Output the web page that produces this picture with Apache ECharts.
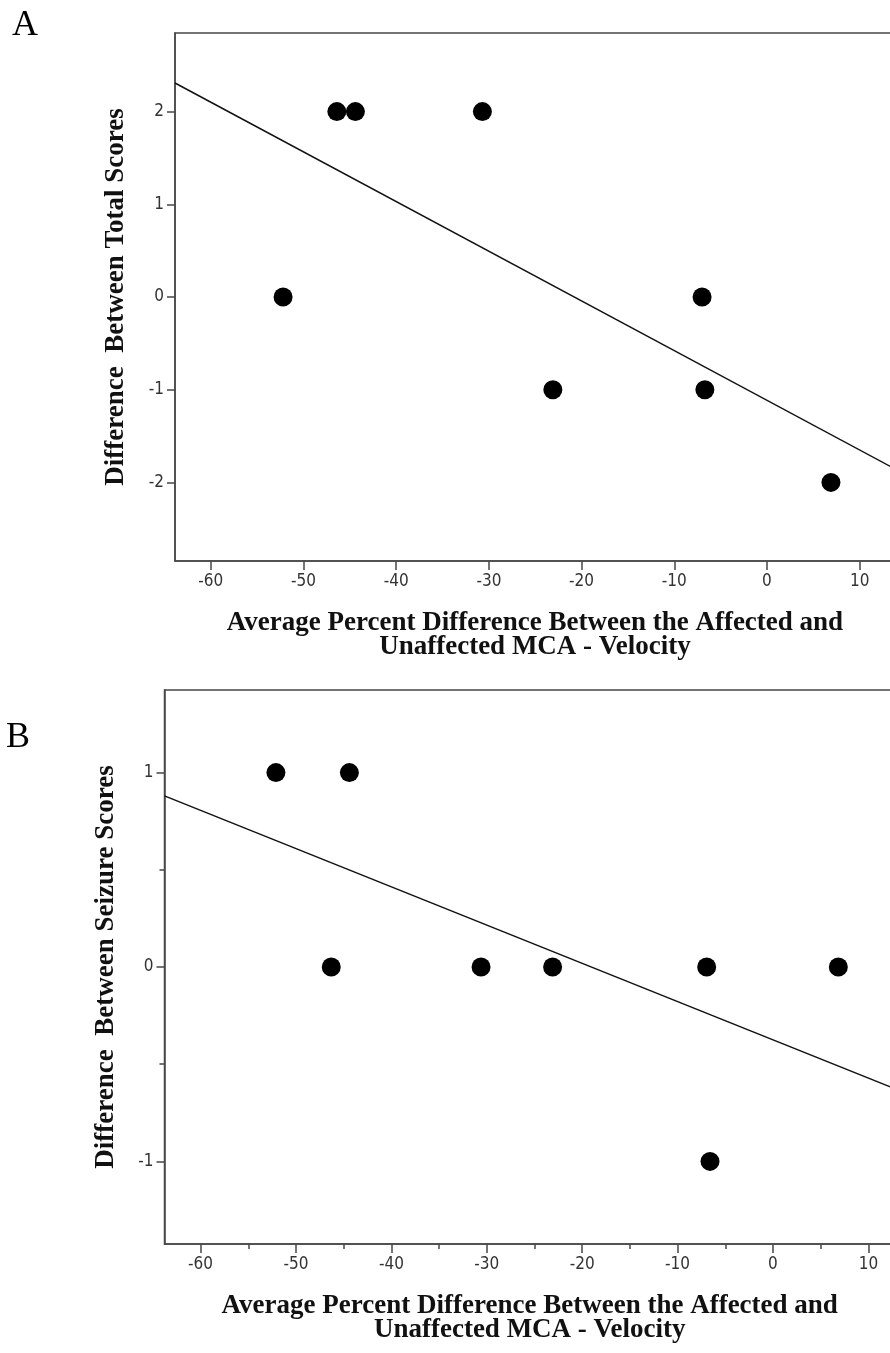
<!DOCTYPE html>
<html>
<head>
<meta charset="utf-8">
<script src="https://cdn.jsdelivr.net/npm/echarts@6/dist/echarts.min.js"></script>
<style>
html, body { margin: 0; padding: 0; background: #fff; }
#chart { width: 890px; height: 1353px; }
</style>
</head>
<body>
<div id="chart"></div>
<script>
// tick positions
var xTicks = [-60, -50, -40, -30, -20, -10, 0, 10];
var xMinorTicks = [-55, -45, -35, -25, -15, -5, 5];
var yTicksA = [-2, -1, 0, 1, 2];
var yTicksB = [-1, 0, 1];
var yMinorTicksB = [-0.5, 0.5];

// panel A: velocity difference vs total score difference
var velocityA = [-52.2, -46.4, -44.4, -30.7, -23.1, -7.0, -6.7, 6.9];
var totalScores = [0, 2, 2, 2, -1, 0, -1, -2];

// panel B: velocity difference vs seizure score difference
var velocityB = [-52.1, -44.4, -46.3, -30.6, -23.1, -6.95, 6.85, -6.6];
var seizureScores = [1, 1, 0, 0, 0, 0, 0, -1];

var xTitle = 'Average Percent Difference Between the Affected and\nUnaffected MCA - Velocity';

var axisColor = '#474747';
var tickFont = '"Liberation Sans Narrow", "Arial Narrow", "DejaVu Sans Condensed", sans-serif';
var titleFont = '"Liberation Serif", "Times New Roman", serif';

var pairs = function(xs, ys){
	return xs.map(function(x, i){ return [x, ys[i]]; });
}

// least squares line over [x0, x1]
var fitLine = function(xs, ys, x0, x1){
	var n = xs.length, mx = 0, my = 0;
	for(var i = 0; i < n; i++){ mx += xs[i]; my += ys[i]; }
	mx /= n; my /= n;
	var sxy = 0, sxx = 0;
	for(var j = 0; j < n; j++){
		sxy += (xs[j] - mx) * (ys[j] - my);
		sxx += (xs[j] - mx) * (xs[j] - mx);
	}
	var b = sxy / sxx;
	var a = my - b * mx;
	return [[x0, a + b * x0], [x1, a + b * x1]];
}

var rangeA = [-63.86, 13.81];
var rangeB = [-63.78, 12.79];

var mainX = function(grid, range, name){
	return {
		type: 'value', gridIndex: grid, position: 'bottom',
		min: range[0], max: range[1],
		axisLine: { show: true, onZero: false, lineStyle: { color: axisColor, width: 1.5 } },
		axisTick: { show: true, inside: false, customValues: xTicks, length: 9, lineStyle: { color: axisColor, width: 1.5 } },
		axisLabel: { customValues: xTicks, margin: 12, color: '#333', fontSize: 17, fontFamily: tickFont },
		splitLine: { show: false },
		name: name, nameLocation: 'middle', nameGap: 50,
		nameTextStyle: { color: '#111', fontSize: 27, fontWeight: 'bold', fontFamily: titleFont, lineHeight: 24 }
	};
}

var mainY = function(grid, range, ticks, name){
	return {
		type: 'value', gridIndex: grid, position: 'left',
		min: range[0], max: range[1],
		axisLine: { show: true, onZero: false, lineStyle: { color: axisColor, width: 1.5 } },
		axisTick: { show: true, inside: false, customValues: ticks, length: 8, lineStyle: { color: axisColor, width: 1.5 } },
		axisLabel: { customValues: ticks, margin: 11, color: '#333', fontSize: 17, fontFamily: tickFont },
		splitLine: { show: false },
		name: name, nameLocation: 'middle', nameGap: 45,
		nameTextStyle: { color: '#111', fontSize: 27, fontWeight: 'bold', fontFamily: titleFont }
	};
}

// extra axis that only draws the short half-step ticks
var minorAxis = function(grid, range, ticks, pos){
	return {
		type: 'value', gridIndex: grid, position: pos,
		min: range[0], max: range[1],
		axisLine: { show: false, onZero: false },
		axisTick: { show: true, inside: false, customValues: ticks, length: 5, lineStyle: { color: axisColor, width: 1.5 } },
		axisLabel: { show: false },
		splitLine: { show: false }
	};
}

var chart = echarts.init(document.getElementById('chart'));

var option = {
	backgroundColor: '#fff',
	animation: false,
	grid: [{
		left: 175, top: 33, right: -5, bottom: 792,
		show: true, borderColor: axisColor, borderWidth: 1.5,
		outerBoundsMode: 'none'
	}, {
		left: 164.5, top: 690, right: -5, bottom: 109,
		show: true, borderColor: axisColor, borderWidth: 1.5,
		outerBoundsMode: 'none'
	}],
	xAxis: [
		mainX(0, rangeA, xTitle),
		mainX(1, rangeB, xTitle),
		minorAxis(1, rangeB, xMinorTicks, 'bottom')
	],
	yAxis: [
		mainY(0, [-2.848, 2.848], yTicksA, 'Difference  Between Total Scores'),
		mainY(1, [-1.425, 1.425], yTicksB, 'Difference  Between Seizure Scores'),
		minorAxis(1, [-1.425, 1.425], yMinorTicksB, 'left')
	],
	graphic: [{
		type: 'text', left: 12, top: 8,
		style: { text: 'A', font: '36px ' + titleFont, fill: '#000' }
	}, {
		type: 'text', left: 6, top: 720,
		style: { text: 'B', font: '36px ' + titleFont, fill: '#000' }
	}],
	series: [{
		type: 'line', xAxisIndex: 0, yAxisIndex: 0,
		data: fitLine(velocityA, totalScores, rangeA[0], rangeA[1]),
		symbol: 'none', lineStyle: { color: '#111', width: 1.5 }, silent: true
	}, {
		type: 'scatter', xAxisIndex: 0, yAxisIndex: 0,
		data: pairs(velocityA, totalScores),
		symbolSize: 19, itemStyle: { color: '#000', opacity: 1 }
	}, {
		type: 'line', xAxisIndex: 1, yAxisIndex: 1,
		data: fitLine(velocityB, seizureScores, rangeB[0], rangeB[1]),
		symbol: 'none', lineStyle: { color: '#111', width: 1.5 }, silent: true
	}, {
		type: 'scatter', xAxisIndex: 1, yAxisIndex: 1,
		data: pairs(velocityB, seizureScores),
		symbolSize: 19, itemStyle: { color: '#000', opacity: 1 }
	}]
};

chart.setOption(option);

window.onresize = function(){
	chart.resize();
}
</script>
</body>
</html>
